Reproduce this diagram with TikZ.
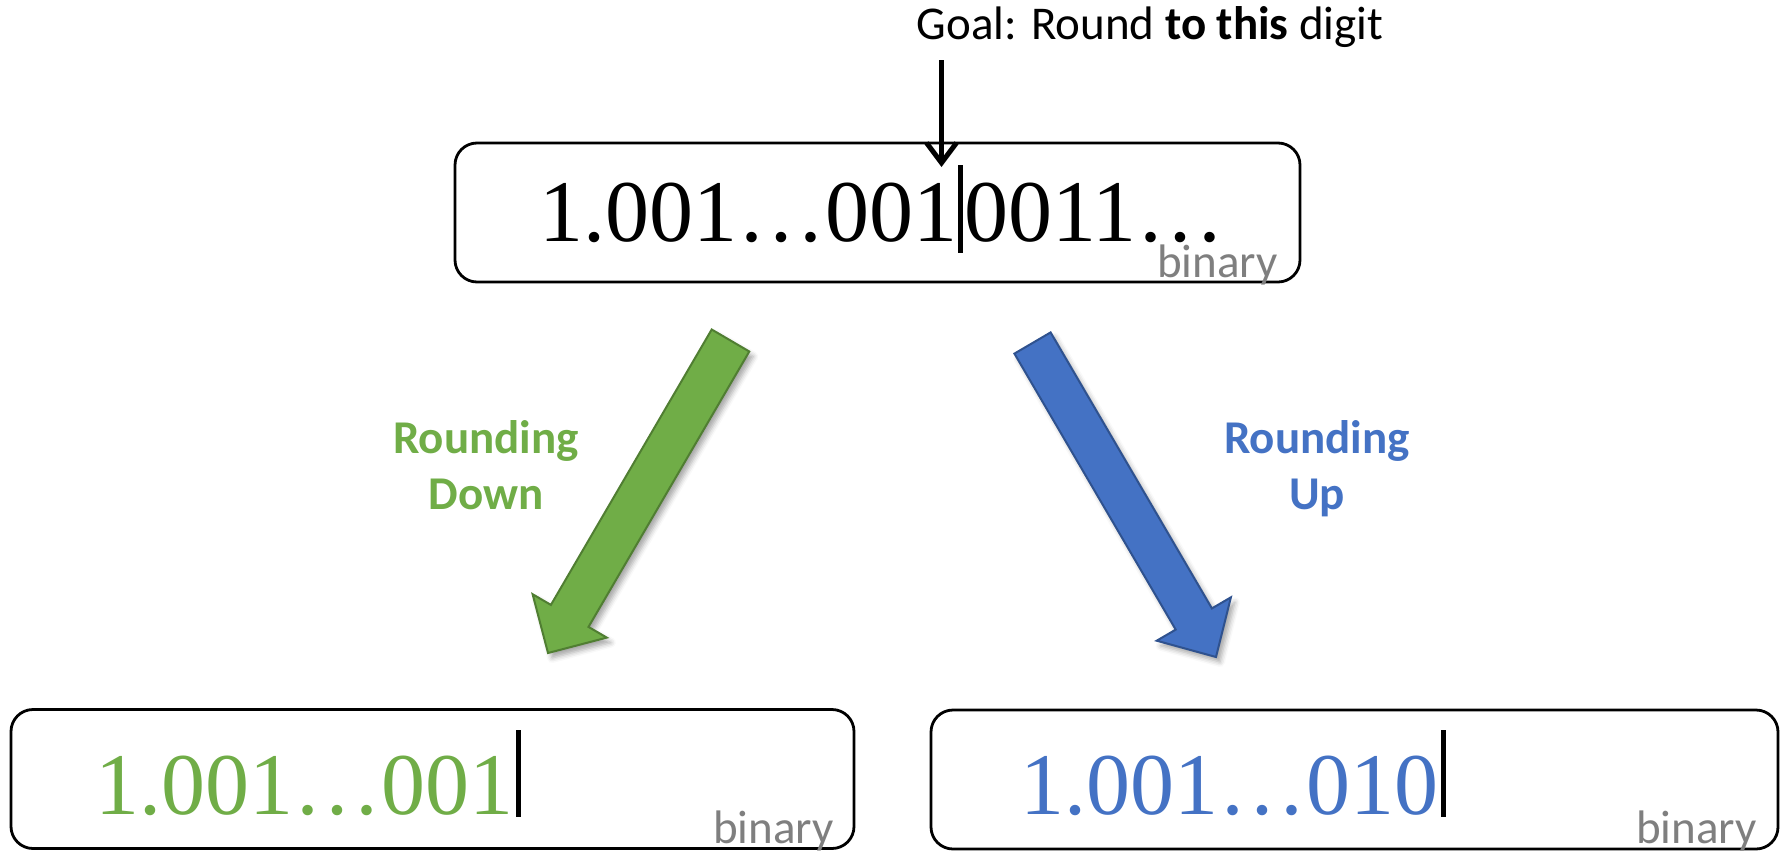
\documentclass[tikz,border=0pt]{standalone}
\usepackage{fontspec}
\setmainfont{Liberation Serif}
\newfontfamily\calib{Carlito}
\usetikzlibrary{arrows.meta,shadows.blur}
\definecolor{gfill}{HTML}{70AD47}
\definecolor{gline}{HTML}{507E32}
\definecolor{bfill}{HTML}{4472C4}
\definecolor{bline}{HTML}{2F528F}
\definecolor{bingray}{HTML}{7F7F7F}
\begin{document}
\begin{tikzpicture}[x=1pt,y=-1pt,
  valbox/.style={draw=black, line width=2.8pt, rounded corners=22pt, rectangle,
    minimum width=#1, minimum height=139pt, inner sep=0pt},
  num/.style={inner sep=0pt, font=\fontsize{88}{100}\selectfont},
  lbl/.style={inner sep=0pt, font=\calib\fontsize{47}{56}\selectfont},
  rlbl/.style={inner sep=0pt, font=\calib\bfseries\fontsize{47}{56}\selectfont},
  bin/.style={lbl, text=bingray},
  cursor/.style={line width=5pt},
  blockarrow/.style={line width=2pt, line join=miter,
    blur shadow={shadow xshift=4pt, shadow yshift=-5pt, shadow blur radius=5pt, shadow opacity=35}},
]
\useasboundingbox (0,0) rectangle (1785,852);

% boxes
\node[valbox=845pt] (top) at (877.5,212.5) {};
\node[valbox=843pt] (bl) at (432.5,779) {};
\node[valbox=847pt] (br) at (1354.5,779.5) {};

% goal text and arrow
\node[lbl, anchor=base] (goal) at (1150,39) {Goal: Round \textbf{to this} digit};
\coordinate (as) at (941.5,60);
\coordinate (ae) at (941.5,167);
\draw[line width=5pt, -{Straight Barb[length=20pt,width=30pt]}] (as) -- (ae);

% top number
\node[num, anchor=base east] (tl) at (958,241) {1.001…001};
\node[num, anchor=base west] (tr) at (964,241) {0011…};
\coordinate (c1a) at (960,165);
\coordinate (c1b) at (960,253);
\draw[cursor] (c1a) -- (c1b);
\node[bin, anchor=base east] (bin1) at (1278,277) {binary};

% arrows
\draw[blockarrow, fill=gfill, draw=gline]
  (711.7,329.5) -- (749.3,351.5) -- (588.5,626.9) -- (606.8,637.6) -- (548,653)
  -- (532.6,594.2) -- (550.9,604.9) -- cycle;
\draw[blockarrow, fill=bfill, draw=bline]
  (1014.4,353.6) -- (1050.6,332.4) -- (1211.9,608.4) -- (1230.9,597.3) -- (1216,657)
  -- (1156.7,640.7) -- (1175.7,629.6) -- cycle;

% labels
\node[rlbl, text=gfill, anchor=base] (rd1) at (486,453) {Rounding};
\node[rlbl, text=gfill, anchor=base] (rd2) at (486,509) {Down};
\node[rlbl, text=bfill, anchor=base] (ru1) at (1317,453) {Rounding};
\node[rlbl, text=bfill, anchor=base] (ru2) at (1317,509) {Up};

% bottom numbers
\node[num, anchor=base east, text=gfill] (gl) at (514,814) {1.001…001};
\coordinate (c2a) at (518,730);
\coordinate (c2b) at (518,817);
\draw[cursor] (c2a) -- (c2b);
\node[bin, anchor=base east] (bin2) at (834,843) {binary};

\node[num, anchor=base east, text=bfill] (bu) at (1439,814) {1.001…010};
\coordinate (c3a) at (1443,730);
\coordinate (c3b) at (1443,817);
\draw[cursor] (c3a) -- (c3b);
\node[bin, anchor=base east] (bin3) at (1757,843) {binary};
\end{tikzpicture}
\end{document}
